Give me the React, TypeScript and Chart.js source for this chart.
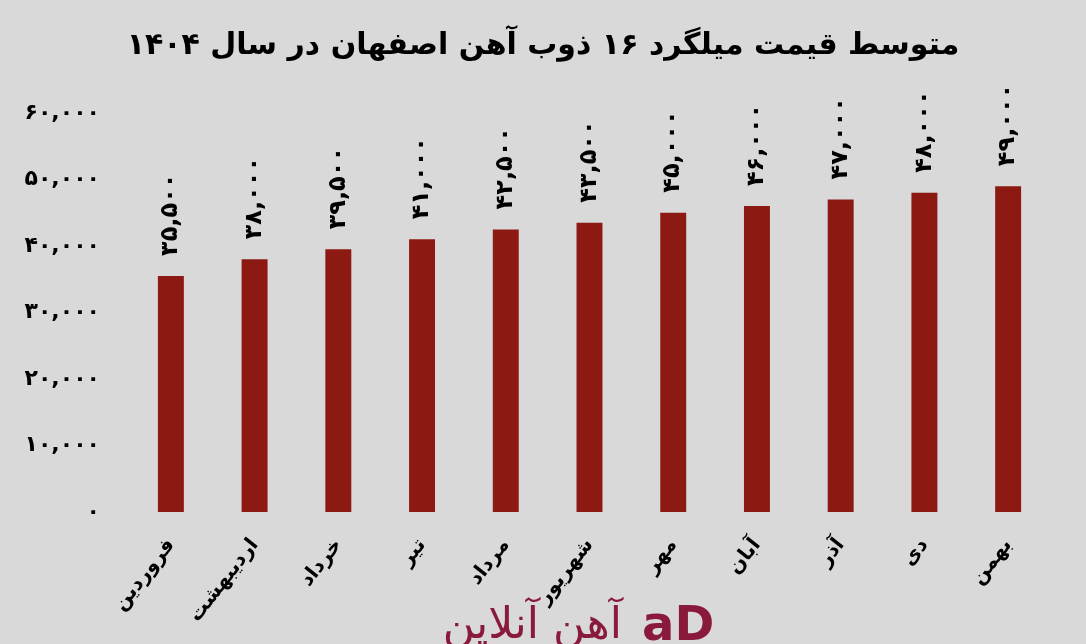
import React, { useEffect, useRef } from "react";
import { Chart, registerables } from "chart.js";

Chart.register(...registerables);

const title = "متوسط قیمت میلگرد ۱۶ ذوب آهن اصفهان در سال ۱۴۰۴";
const months = ["فروردین", "اردیبهشت", "خرداد", "تیر", "مرداد", "شهریور", "مهر", "آبان", "آذر", "دی", "بهمن"];
const prices = [35500, 38000, 39500, 41000, 42500, 43500, 45000, 46000, 47000, 48000, 49000];
const yTicks = [0, 10000, 20000, 30000, 40000, 50000, 60000];
const watermark = "آهن آنلاین";

const FONT = "'DejaVu Sans', sans-serif";
const BAR = "#8c1a12";

const toFa = (n: number) =>
  n
    .toString()
    .replace(/\B(?=(\d{3})+(?!\d))/g, ",")
    .replace(/\d/g, (d) => "۰۱۲۳۴۵۶۷۸۹"[Number(d)]);

export default function App() {
  const ref = useRef<HTMLCanvasElement | null>(null);
  useEffect(() => {
    if (!ref.current) return;
    const bg = {
      id: "bg",
      beforeDraw(c: any) {
        const ctx = c.ctx;
        ctx.save();
        ctx.fillStyle = "#d9d9d9";
        ctx.fillRect(0, 0, c.width, c.height);
        ctx.restore();
      },
    };
    const extras = {
      id: "extras",
      afterDraw(c: any) {
        const ctx = c.ctx;
        ctx.save();
        // title
        ctx.fillStyle = "#000";
        ctx.font = `bold 30px ${FONT}`;
        ctx.textAlign = "center";
        ctx.textBaseline = "middle";
        ctx.direction = "rtl";
        ctx.fillText(title, 543, 46);
        // data labels
        const meta = c.getDatasetMeta(0);
        ctx.font = `bold 24px ${FONT}`;
        ctx.direction = "ltr";
        meta.data.forEach((bar: any, i: number) => {
          ctx.save();
          ctx.translate(bar.x, bar.y - 20);
          ctx.rotate(-Math.PI / 2);
          ctx.textAlign = "left";
          ctx.textBaseline = "middle";
          ctx.fillText(toFa(prices[i]), 0, 0);
          ctx.restore();
        });
        // watermark
        ctx.fillStyle = "#8a1a3c";
        ctx.font = `44px ${FONT}`;
        ctx.textAlign = "right";
        ctx.textBaseline = "alphabetic";
        ctx.direction = "rtl";
        ctx.fillText(watermark, 622, 638);
        ctx.direction = "ltr";
        ctx.textAlign = "left";
        ctx.font = `bold 48px ${FONT}`;
        ctx.fillText("aD", 642, 640);
        ctx.restore();
      },
    };
    const chart = new Chart(ref.current, {
      type: "bar",
      data: {
        labels: months,
        datasets: [
          {
            data: prices,
            backgroundColor: BAR,
            barPercentage: 0.62,
            categoryPercentage: 0.5,
          },
        ],
      },
      options: {
        animation: false,
        responsive: false,
        maintainAspectRatio: false,
        layout: { padding: { top: 113, left: 8, right: 36, bottom: 0 } },
        plugins: { legend: { display: false }, title: { display: false }, tooltip: { enabled: false } },
        scales: {
          x: {
            grid: { display: false, drawTicks: false },
            border: { display: false },
            afterFit: (s: any) => {
              s.height = 132;
            },
            ticks: {
              color: "#000",
              font: { family: FONT, weight: "bold", size: 20 },
              minRotation: 52,
              maxRotation: 52,
              padding: 22,
              autoSkip: false,
            },
          },
          y: {
            min: 0,
            max: 60000,
            grid: { display: false, drawTicks: false },
            border: { display: false },
            afterFit: (s: any) => {
              s.width = 121;
            },
            afterBuildTicks: (s: any) => {
              s.ticks = yTicks.map((v) => ({ value: v }));
            },
            ticks: {
              color: "#000",
              font: { family: FONT, weight: "bold", size: 22 },
              padding: 29,
              callback: (v: any) => toFa(Number(v)),
            },
          },
        },
      },
      plugins: [bg, extras],
    });
    return () => chart.destroy();
  }, []);
  return (
    <div style={{ position: "fixed", left: 0, top: 0, width: 1086, height: 644, background: "#d9d9d9" }}>
      <canvas ref={ref} width={1086} height={644} style={{ width: 1086, height: 644 }} />
    </div>
  );
}
